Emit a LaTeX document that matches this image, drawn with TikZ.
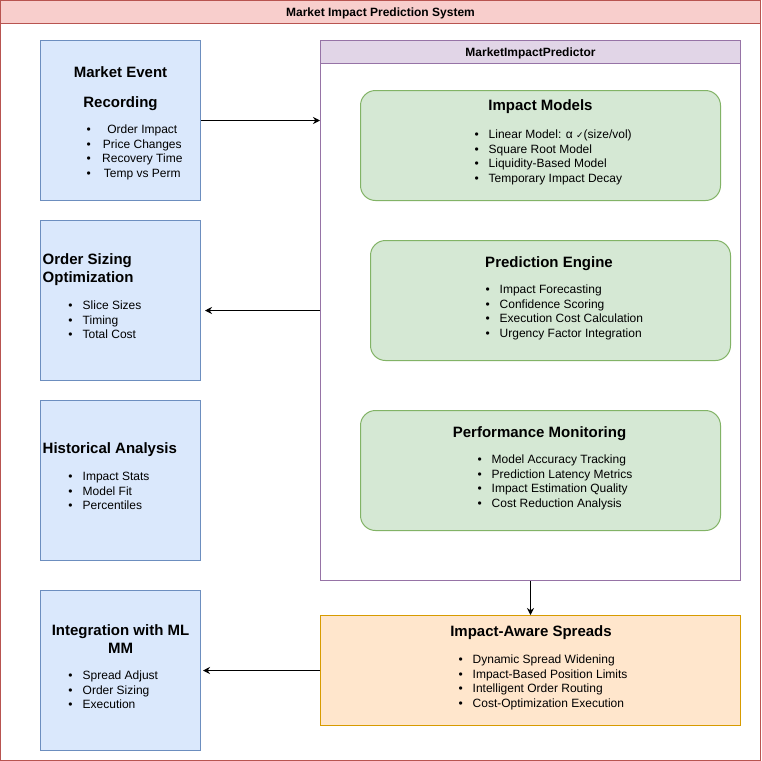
\documentclass[tikz,border=0pt]{standalone}
\usepackage{fontspec}
\setmainfont{Liberation Sans}
\newfontfamily\symfont{DejaVu Sans}
\usetikzlibrary{positioning,arrows.meta}
\definecolor{redLine}{HTML}{B85450}
\definecolor{redFill}{HTML}{F8CECC}
\definecolor{blueLine}{HTML}{6C8EBF}
\definecolor{blueFill}{HTML}{DAE8FC}
\definecolor{greenLine}{HTML}{82B366}
\definecolor{greenFill}{HTML}{D5E8D4}
\definecolor{orangeLine}{HTML}{D79B00}
\definecolor{orangeFill}{HTML}{FFE6CC}
\definecolor{purpleLine}{HTML}{9673A6}
\definecolor{purpleFill}{HTML}{E1D5E7}
\newcommand{\bul}{\llap{\textbullet\hspace{10pt}}}
\tikzset{
  frame/.style={draw=redLine, line width=1pt, minimum width=760pt, minimum height=760pt, inner sep=0pt},
  bar/.style={line width=1pt, minimum height=23pt, inner sep=0pt, font=\fontsize{12}{14}\selectfont\bfseries, text height=8.6pt, text depth=0pt},
  side/.style={draw=blueLine, fill=blueFill, line width=1pt, minimum width=160pt, minimum height=160pt, inner sep=0pt},
  card/.style={draw=greenLine, fill=greenFill, line width=1pt, rounded corners=15pt, minimum width=360pt, inner sep=0pt},
  hd/.style={inner sep=0pt, anchor=base, font=\fontsize{15}{18}\selectfont\bfseries},
  lst/.style={inner sep=0pt, anchor=base west, font=\fontsize{12}{14.4}\selectfont},
  fl/.style={-{Stealth[length=7pt,width=7pt]}, line width=1pt},
}

\begin{document}
\begin{tikzpicture}[x=1pt, y=-1pt]
\useasboundingbox (-0.5,-0.5) rectangle (760.5,760.5);
%% ---- le cadre general et son bandeau
\node[frame] (sys) at (380,380) {};
\node[bar, draw=redLine, fill=redFill, minimum width=760pt] (sysbar) at (380,11.5) {Market Impact Prediction System};

%% ---- la colonne de gauche
\node[side] (rec) at (120,120) {};
\node[side] (osz) at (120,300) {};
\node[side] (hist) at (120,480) {};
\node[side] (integ) at (120,670) {};

\node[hd] (recT) at (120,77.4) {\begin{tabular}[t]{@{}c@{}}Market Event\\[12pt]Recording\end{tabular}};
\node[lst] (recL) at (85.9,133.3) {\begin{tabular}[t]{@{}c@{\hspace{11.4pt}}c@{}}\textbullet & Order Impact\\ \textbullet & Price Changes\\ \textbullet & Recovery Time\\ \textbullet & Temp vs Perm\end{tabular}};

\node[hd, anchor=base west] (oszT) at (42,264.4) {\begin{tabular}[t]{@{}l@{}}Order Sizing\\Optimization\end{tabular}};
\node[lst] (oszL) at (82,309.3) {\begin{tabular}[t]{@{}l@{}}\bul Slice Sizes\\ \bul Timing\\ \bul Total Cost\end{tabular}};

\node[hd, anchor=base west] (histT) at (42,453.4) {Historical Analysis};
\node[lst] (histL) at (82,480.3) {\begin{tabular}[t]{@{}l@{}}\bul Impact Stats\\ \bul Model Fit\\ \bul Percentiles\end{tabular}};

\node[hd] (integT) at (120,635.4) {\begin{tabular}[t]{@{}c@{}}Integration with ML\\MM\end{tabular}};
\node[lst] (integL) at (82,679.3) {\begin{tabular}[t]{@{}l@{}}\bul Spread Adjust\\ \bul Order Sizing\\ \bul Execution\end{tabular}};

%% ---- le predicteur et ses trois blocs
\node[draw=purpleLine, line width=1pt, minimum width=420pt, minimum height=540pt, inner sep=0pt] (pred) at (530,310) {};
\node[bar, draw=purpleLine, fill=purpleFill, minimum width=420pt] (predbar) at (530,51.5) {MarketImpactPredictor};

\node[card, minimum height=110pt] (models) at (540,145) {};
\node[hd] (modelsT) at (540,110.4) {Impact Models};
\node[lst] (modelsL) at (488,138.3) {\begin{tabular}[t]{@{}l@{}}\bul Linear Model: α {\symfont\fontsize{9}{12}\selectfont ✓}(size/vol)\\ \bul Square Root Model\\ \bul Liquidity-Based Model\\ \bul Temporary Impact Decay\end{tabular}};

\node[card, minimum height=120pt] (engine) at (550,300) {};
\node[hd] (engineT) at (548.5,267.4) {Prediction Engine};
\node[lst] (engineL) at (499,293.3) {\begin{tabular}[t]{@{}l@{}}\bul Impact Forecasting\\ \bul Confidence Scoring\\ \bul Execution Cost Calculation\\ \bul Urgency Factor Integration\end{tabular}};

\node[card, minimum height=120pt] (monitor) at (540,470) {};
\node[hd] (monitorT) at (539,437.4) {Performance Monitoring};
\node[lst] (monitorL) at (491,463.3) {\begin{tabular}[t]{@{}l@{}}\bul Model Accuracy Tracking\\ \bul Prediction Latency Metrics\\ \bul Impact Estimation Quality\\ \bul Cost Reduction Analysis\end{tabular}};

%% ---- la sortie : spreads
\node[draw=orangeLine, fill=orangeFill, line width=1pt, minimum width=420pt, minimum height=110pt, inner sep=0pt] (spreads) at (530,670) {};
\node[hd] (spreadsT) at (530.5,636.4) {Impact-Aware Spreads};
\node[lst] (spreadsL) at (472,663.3) {\begin{tabular}[t]{@{}l@{}}\bul Dynamic Spread Widening\\ \bul Impact-Based Position Limits\\ \bul Intelligent Order Routing\\ \bul Cost-Optimization Execution\end{tabular}};

%% ---- les fleches
\draw[fl] (rec.east) -- (rec.east -| pred.west);
\draw[fl, shorten >=4pt] (pred.west) -- (pred.west -| osz.east);
\draw[fl] (pred.south) -- (spreads.north);
\draw[fl, shorten >=2pt] (spreads.west) -- (integ.east);
\end{tikzpicture}
\end{document}
